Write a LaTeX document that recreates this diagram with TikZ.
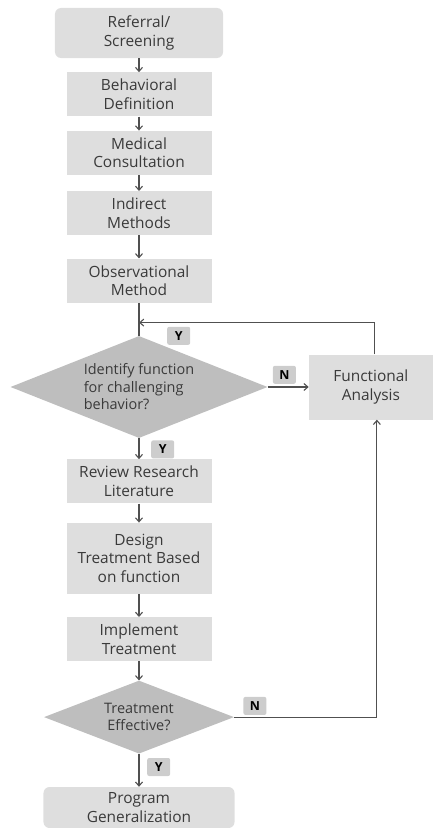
\documentclass[tikz,border=0pt]{standalone}
\usepackage{fontspec}
\setmainfont{Open Sans}
\usepackage{tikz}
\usetikzlibrary{arrows.meta,positioning,calc,shapes.geometric}
\definecolor{boxgray}{HTML}{DEDEDE}
\definecolor{decgray}{HTML}{BEBEBE}
\definecolor{labgray}{HTML}{CDCDCD}
\definecolor{linegray}{HTML}{505050}
\definecolor{txtgray}{HTML}{3A3A3A}

\begin{document}
\begin{tikzpicture}[
  x=1bp, y=-1bp,
  box/.style={fill=boxgray, minimum width=145bp, minimum height=44bp, align=center, inner sep=1bp, text=txtgray, font=\fontsize{15.5}{18.5}\selectfont},
  endbox/.style={box, rounded corners=6bp},
  decision/.style={diamond, shape aspect=2.5, fill=decgray, inner sep=0pt, text=txtgray, font=\fontsize{14.5}{17.5}\selectfont},
  lab/.style={fill=labgray, rounded corners=2bp, minimum width=23bp, minimum height=18bp, inner sep=0pt, font=\bfseries\fontsize{12.5}{12.5}\selectfont},
  line/.style={draw=linegray, line width=1.1bp},
  arr/.style={line, -{Straight Barb[length=4bp,width=7bp]}}
]
  \useasboundingbox (0,0) rectangle (432,828);

  % main column
  \node[endbox, minimum width=168bp, minimum height=50bp] (ref) at (139,33) {Referral/\\Screening};
  \node[box, below=14bp of ref] (beh) {Behavioral\\Definition};
  \node[box, below=14bp of beh] (med) {Medical\\Consultation};
  \node[box, below=16bp of med] (ind) {Indirect\\Methods};
  \node[box, below=23bp of ind] (obs) {Observational\\Method};
  \node[decision, align=left, minimum width=257bp, minimum height=102bp, below=33bp of obs] (func) {Identify function\\for challenging\\behavior?};
  \node[box, below=21bp of func] (lit) {Review Research\\Literature};
  \node[box, minimum height=71bp, below=19bp of lit] (design) {Design\\Treatment Based\\on function};
  \node[box, below=23bp of design] (impl) {Implement\\Treatment};
  \node[decision, align=center, minimum width=190bp, minimum height=73bp, below=19bp of impl] (eff) {Treatment\\Effective?};
  \node[endbox, minimum width=191bp, minimum height=41bp, below=33bp of eff] (gen) {Program\\Generalization};
  % side box
  \node[box, minimum width=124bp, minimum height=65bp, right=41bp of func] (fa) {Functional\\Analysis};

  % answer tags
  \node[lab, anchor=west] (y1) at ([xshift=28bp]func.north) {Y};
  \node[lab, anchor=south west] (n1) at ([xshift=5bp,yshift=3bp]func.east) {N};
  \node[lab, anchor=north west] (y2) at ([xshift=12bp,yshift=-2bp]func.south) {Y};
  \node[lab, anchor=south west] (n2) at ([xshift=9bp,yshift=2bp]eff.east) {N};
  \node[lab, anchor=north west] (y3) at ([xshift=8bp,yshift=-4bp]eff.south) {Y};

  \coordinate (loop) at ($(obs.south)!0.6!(func.north)$);

  \draw[arr] (ref) -- (beh);
  \draw[arr] (beh) -- (med);
  \draw[arr] (med) -- (ind);
  \draw[arr] (ind) -- (obs);
  \draw[line] (obs) -- (func);
  \draw[arr] (func) -- (fa);
  \draw[arr] ([xshift=4bp]fa.north) |- (loop);
  \draw[arr] (func) -- (lit);
  \draw[arr] (lit) -- (design);
  \draw[arr] (design) -- (impl);
  \draw[arr] (impl) -- (eff);
  \draw[arr] (eff.east) -| ([xshift=6bp]fa.south);
  \draw[arr] (eff) -- (gen);
\end{tikzpicture}
\end{document}
